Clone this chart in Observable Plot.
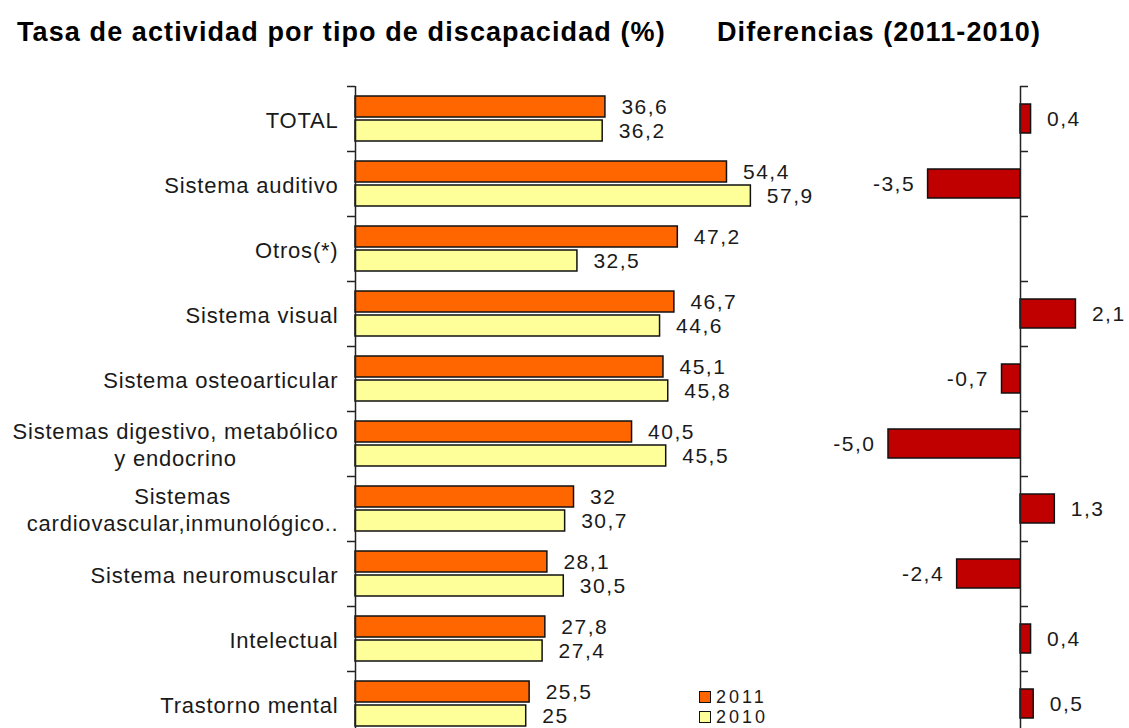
<!DOCTYPE html>
<html>
<head>
<meta charset="utf-8">
<script src="https://cdn.jsdelivr.net/npm/d3@7"></script>
<script src="https://cdn.jsdelivr.net/npm/@observablehq/plot@0.6"></script>
<style>
  html, body { margin: 0; padding: 0; background: #fff; overflow: hidden; }
  #wrap { position: relative; width: 1129px; height: 728px; overflow: hidden; font-family: "Liberation Sans", Arial, sans-serif; color: #1a1a1a; }
  .title { position: absolute; top: 19px; font-weight: bold; font-size: 27px; letter-spacing: 1.1px; line-height: 1; white-space: nowrap; color: #000; }
  .layer { position: absolute; left: 0; top: 0; }
  .leg { position: absolute; left: 699px; height: 18px; font-size: 18px; letter-spacing: 3px; line-height: 18px; display: flex; align-items: center; }
  .sw { width: 10px; height: 10px; border: 1.5px solid #111; margin-right: 5px; }
</style>
</head>
<body>
<div id="wrap">
  <div class="title" style="left:17px">Tasa de actividad por tipo de discapacidad (%)</div>
  <div class="title" style="left:717px">Diferencias (2011-2010)</div>
  <div id="left" class="layer"></div>
  <div id="right" class="layer"></div>
  <div id="legend"></div>
</div>
<script>
// ---- data ----
const categories = [
  "TOTAL",
  "Sistema auditivo",
  "Otros(*)",
  "Sistema visual",
  "Sistema osteoarticular",
  "Sistemas digestivo, metabólico\ny endocrino",
  "Sistemas\ncardiovascular,inmunológico..",
  "Sistema neuromuscular",
  "Intelectual",
  "Trastorno mental"
];
const values2011 = [36.6, 54.4, 47.2, 46.7, 45.1, 40.5, 32, 28.1, 27.8, 25.5];
const values2010 = [36.2, 57.9, 32.5, 44.6, 45.8, 45.5, 30.7, 30.5, 27.4, 25];
const differences = [0.4, -3.5, null, 2.1, -0.7, -5.0, 1.3, -2.4, 0.4, 0.5];
const seriesNames = ["2011", "2010"];
const seriesColors = ["#FF6600", "#FFFF99"];
const diffColor = "#C00000";

// ---- layout ----
const W = 1129;
const bandTop = 86, bandStep = 65;
const H = bandTop + bandStep * categories.length; // bottom band runs past the 728px window, as in the original
const font = '"Liberation Sans", Arial, sans-serif';
const ink = "#1a1a1a";

const rows = categories.map((c, i) => ({cat: c, v2011: values2011[i], v2010: values2010[i], diff: differences[i]}));
const fmtVal = v => String(v).replace(".", ",");
const fmtDiff = v => v.toFixed(1).replace(".", ",");
const tag = name => () => name;

const left = Plot.plot({
  width: W, height: H,
  marginLeft: 355, marginRight: 296, marginTop: bandTop, marginBottom: 0,
  x: {domain: [0, 70], axis: null},
  y: {domain: categories, padding: 0, axis: null},
  style: {fontFamily: font, fontSize: "22px", color: ink, background: "transparent", overflow: "visible"},
  marks: [
    Plot.barX(rows, {x1: 0, x2: "v2011", y: "cat", fill: seriesColors[0], stroke: "#111", strokeWidth: 1.5, insetTop: 10, insetBottom: 34}),
    Plot.barX(rows, {x1: 0, x2: "v2010", y: "cat", fill: seriesColors[1], stroke: "#111", strokeWidth: 1.5, insetTop: 34, insetBottom: 10}),
    Plot.ruleX([0], {stroke: "#222", strokeWidth: 1.5}),
    Plot.ruleY(categories, {y: d => d, x1: 0, x2: 0, insetLeft: -8, dy: -bandStep / 2, stroke: "#222", strokeWidth: 1.5}),
    Plot.text(rows, {x: "v2011", y: "cat", text: d => fmtVal(d.v2011), dx: 16, dy: -12, textAnchor: "start", fontSize: 21, fill: ink, ariaLabel: tag("values")}),
    Plot.text(rows, {x: "v2010", y: "cat", text: d => fmtVal(d.v2010), dx: 16, dy: 12, textAnchor: "start", fontSize: 21, fill: ink, ariaLabel: tag("values")}),
    Plot.text(rows, {x: 0, y: "cat", text: "cat", dx: -17, textAnchor: "end", lineHeight: 1.23, fontSize: 22, fill: ink, ariaLabel: tag("categories")})
  ]
});
document.getElementById("left").appendChild(left);

const diffRows = rows.filter(d => d.diff != null);
const right = Plot.plot({
  width: W, height: H,
  marginLeft: 861.6, marginRight: 29.8, marginTop: bandTop, marginBottom: 0,
  x: {domain: [-6, 3], axis: null},
  y: {domain: categories, padding: 0, axis: null},
  style: {fontFamily: font, fontSize: "21px", color: ink, background: "transparent", overflow: "visible"},
  marks: [
    Plot.barX(diffRows, {x1: 0, x2: "diff", y: "cat", fill: diffColor, stroke: "#111", strokeWidth: 1.5, insetTop: 18, insetBottom: 18}),
    Plot.ruleX([0], {stroke: "#222", strokeWidth: 1.5}),
    Plot.ruleY(categories, {y: d => d, x1: 0, x2: 0, insetRight: -8, dy: -bandStep / 2, stroke: "#222", strokeWidth: 1.5}),
    Plot.text(diffRows.filter(d => d.diff >= 0), {x: "diff", y: "cat", text: d => fmtDiff(d.diff), dx: 16, textAnchor: "start", fontSize: 21, fill: ink, ariaLabel: tag("values")}),
    Plot.text(diffRows.filter(d => d.diff < 0), {x: "diff", y: "cat", text: d => fmtDiff(d.diff), dx: -13, textAnchor: "end", fontSize: 21, fill: ink, ariaLabel: tag("values")})
  ]
});
document.getElementById("right").appendChild(right);

// letter spacing to mimic the original's wide glyphs
for (const svg of [left, right]) {
  d3.select(svg).selectAll('text[aria-label="values"]').style("letter-spacing", "1.5px");
  d3.select(svg).selectAll('text[aria-label="categories"]').style("letter-spacing", "0.8px");
}
// multi-line category labels: lines centred on each other, block right-aligned
d3.select(left).selectAll('text[aria-label="categories"]').each(function() {
  const spans = this.querySelectorAll("tspan");
  if (spans.length > 1) {
    const bb = this.getBBox();
    this.setAttribute("text-anchor", "middle");
    spans.forEach(s => s.setAttribute("x", bb.x + bb.width / 2));
  }
});

// legend
const legend = document.getElementById("legend");
seriesNames.forEach((name, i) => {
  const row = document.createElement("div");
  row.className = "leg";
  row.style.top = (688 + i * 20) + "px";
  row.innerHTML = `<span class="sw" style="background:${seriesColors[i]}"></span><span>${name}</span>`;
  legend.appendChild(row);
});
</script>
</body>
</html>
